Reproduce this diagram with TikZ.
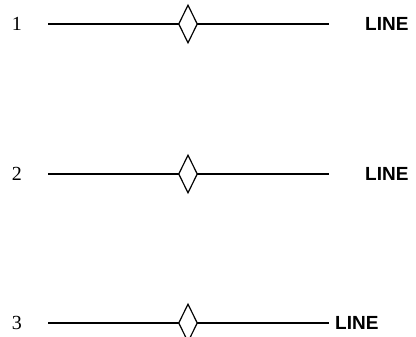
\documentclass[tikz,border=0pt]{standalone}
\usepackage{fontspec}
\setmainfont{Liberation Serif}
\newfontfamily\lsans{Liberation Sans}
\usetikzlibrary{shapes.geometric}
\begin{document}
\begin{tikzpicture}[x=1pt,y=1pt,
  num/.style={font=\fontsize{20}{20}\selectfont, inner sep=0pt},
  lbl/.style={font=\lsans\bfseries\fontsize{19}{19}\selectfont, inner sep=0pt, anchor=west},
  dia/.style={diamond, draw, line width=1.2pt, fill=white, minimum width=19pt, minimum height=38pt, inner sep=0pt, aspect=0.5},
  wire/.style={line width=1.2pt}]
\useasboundingbox (0,0) rectangle (416,337);
\foreach \i/\y/\lx in {1/313/365, 2/163/365, 3/14/335}{
  \node[num] (n\i) at (17,\y) {\i};
  \coordinate (a\i) at (48,\y);
  \coordinate (b\i) at (329,\y);
  \node[lbl] (l\i) at (\lx,\y) {LINE};
  \draw[wire] (a\i) -- (b\i);
  \node[dia] (d\i) at (188,\y) {};
}
\end{tikzpicture}
\end{document}
